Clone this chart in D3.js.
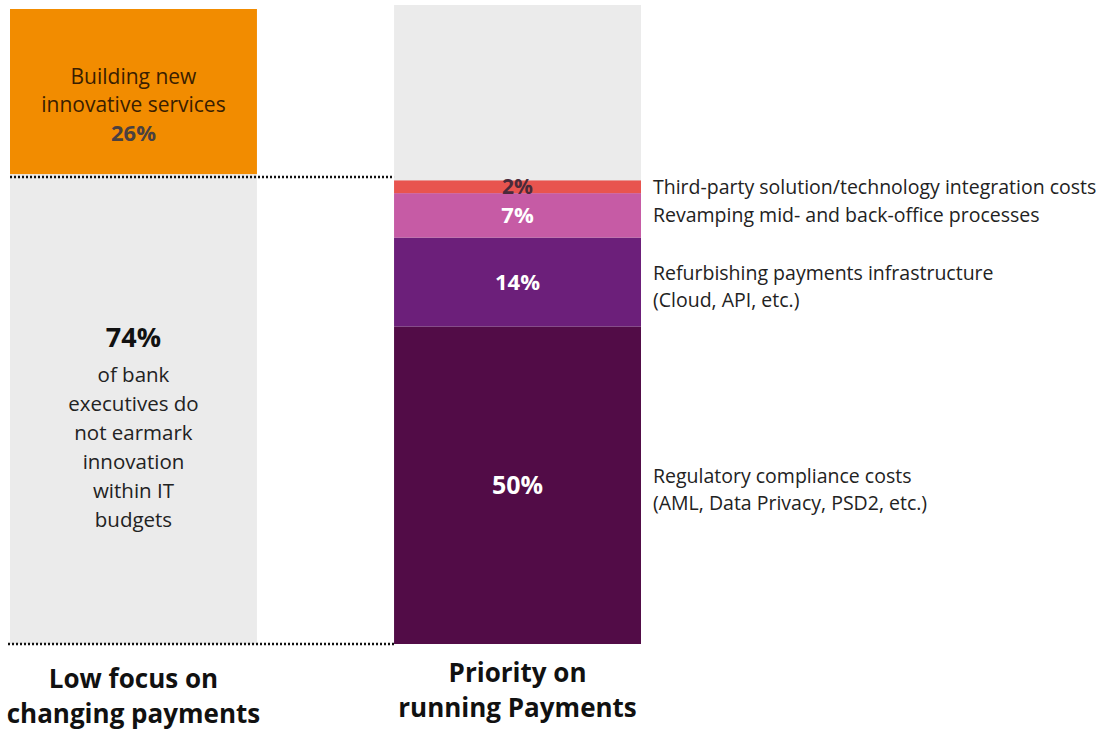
<!DOCTYPE html>
<html><head><meta charset="utf-8">
<script src="https://cdn.jsdelivr.net/npm/d3@7"></script>
<style>body{margin:0;background:#fff;} svg{display:block;font-family:"Open Sans","Noto Sans",sans-serif;}</style>
</head><body>
<script>
const columns = ["Low focus on changing payments", "Priority on running Payments"];
const columnTitles = [["Low focus on", "changing payments"], ["Priority on", "running Payments"]];
const leftSegments = [
  {key: "Not earmarked", value: 74},
  {key: "Building new innovative services", value: 26}
];
const rightSegments = ["Regulatory compliance costs", "Refurbishing payments infrastructure", "Revamping mid- and back-office processes", "Third-party solution/technology integration costs"];
const rightValues = [50, 14, 7, 2];
const rightLabels = [
  ["Regulatory compliance costs", "(AML, Data Privacy, PSD2, etc.)"],
  ["Refurbishing payments infrastructure", "(Cloud, API, etc.)"],
  ["Revamping mid- and back-office processes"],
  ["Third-party solution/technology integration costs"]
];
const leftText = ["of bank", "executives do", "not earmark", "innovation", "within IT", "budgets"];
const orangeText = ["Building new", "innovative services"];

const W = 1117, H = 733;
const svg = d3.select("body").append("svg").attr("width", W).attr("height", H);

const x = d3.scaleBand().domain(columns).range([10, 641]).paddingInner(0.357).paddingOuter(0);
const y = d3.scaleLinear().domain([0, 100]).range([644, 9]);
const bw = x.bandwidth();
const xl = x(columns[0]), xr = x(columns[1]);

const segColors = ["#520C47", "#6C1F7A", "#C65BA5", "#E8544F"];
const labelColors = ["#ffffff", "#ffffff", "#ffffff", "#4a2a3a"];
const labelSizes = [25, 22, 22, 21];

// right background gray
svg.append("rect").attr("x", xr).attr("y", y(100) - 4).attr("width", bw).attr("height", y(0) - y(100) + 4).attr("fill", "#EBEBEB");

// left bar
let acc = 0;
const leftStack = leftSegments.map(d => { const s = {key: d.key, y0: acc, y1: acc + d.value}; acc += d.value; return s; });
svg.selectAll(".lseg").data(leftStack).join("rect")
  .attr("x", xl).attr("width", bw)
  .attr("y", d => y(d.y1)).attr("height", d => y(d.y0) - y(d.y1))
  .attr("fill", (d, i) => i === 0 ? "#EBEBEB" : "#F28C00");

// right stack
acc = 0;
const rightStack = rightValues.map((v, i) => { const s = {i, v, y0: acc, y1: acc + v}; acc += v; return s; });
svg.selectAll(".rseg").data(rightStack).join("rect")
  .attr("x", xr).attr("width", bw)
  .attr("y", d => y(d.y1)).attr("height", d => y(d.y0) - y(d.y1))
  .attr("fill", d => segColors[d.i]);

// segment value labels
svg.selectAll(".rlab").data(rightStack).join("text")
  .attr("x", xr + bw / 2)
  .attr("y", d => (y(d.y0) + y(d.y1)) / 2 + labelSizes[d.i] * 0.36)
  .attr("text-anchor", "middle").attr("font-size", d => labelSizes[d.i]).attr("font-weight", 700)
  .attr("fill", d => labelColors[d.i])
  .text(d => d.v + "%");

// right side labels
rightStack.forEach(d => {
  const cy = (y(d.y0) + y(d.y1)) / 2;
  const lines = rightLabels[d.i];
  const t = svg.append("text").attr("x", xr + bw + 12).attr("font-size", 19.5).attr("fill", "#222");
  lines.forEach((l, k) => {
    t.append("tspan").attr("x", xr + bw + 12)
      .attr("y", cy + 6 + (lines.length === 2 ? (k === 0 ? -8 : 19) : 0) + (d.i === 3 ? 1 : 0) + (d.i === 2 ? 1 : 0))
      .text(l);
  });
});

// dotted lines
svg.append("line").attr("x1", xl).attr("x2", xr).attr("y1", y(74) + 3).attr("y2", y(74) + 3)
  .attr("stroke", "#111").attr("stroke-width", 2.5).attr("stroke-dasharray", "2,2");
svg.append("line").attr("x1", xl - 2).attr("x2", xr).attr("y1", y(0)).attr("y2", y(0))
  .attr("stroke", "#111").attr("stroke-width", 2.5).attr("stroke-dasharray", "2,2");

// orange text
const ocx = xl + bw / 2;
orangeText.forEach((l, k) => {
  svg.append("text").attr("x", ocx).attr("y", 84 + k * 28).attr("text-anchor", "middle")
    .attr("font-size", 21).attr("fill", "#3a1e00").text(l);
});
svg.append("text").attr("x", ocx).attr("y", 141).attr("text-anchor", "middle")
  .attr("font-size", 22).attr("font-weight", 700).attr("fill", "#4a4040").text(leftSegments[1].value + "%");

// left gray text
svg.append("text").attr("x", ocx).attr("y", 347).attr("text-anchor", "middle")
  .attr("font-size", 27).attr("font-weight", 700).attr("fill", "#111").text(leftSegments[0].value + "%");
leftText.forEach((l, k) => {
  svg.append("text").attr("x", ocx).attr("y", 382 + k * 29).attr("text-anchor", "middle")
    .attr("font-size", 20.5).attr("fill", "#222").text(l);
});

// column titles
columnTitles.forEach((lines, i) => {
  const cx = x(columns[i]) + bw / 2;
  lines.forEach((l, k) => {
    svg.append("text").attr("x", cx).attr("y", (i === 0 ? 688 : 682) + k * 35).attr("text-anchor", "middle")
      .attr("font-size", 26).attr("font-weight", 700).attr("fill", "#111").text(l);
  });
});
</script>
</body></html>
